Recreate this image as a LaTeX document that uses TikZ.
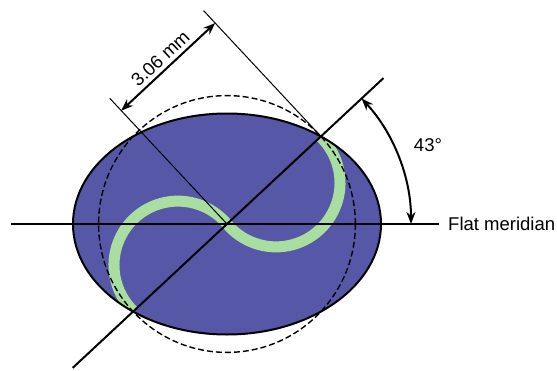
\documentclass[tikz,border=0pt]{standalone}
\usepackage{fontspec}
\setmainfont{Liberation Sans}
\usetikzlibrary{arrows.meta}
\definecolor{lensblue}{RGB}{87, 87, 167}
\definecolor{bandgreen}{RGB}{168, 222, 160}

\begin{document}
\begin{tikzpicture}[
    x=1pt, y=1pt,
    lens/.style={
        fill=lensblue
    },
    rim/.style={
        draw=black,
        line width=2pt
    },
    band/.style={
        draw=bandgreen,
        line width=11pt
    },
    meridian/.style={
        line width=2pt
    },
    guide/.style={
        line width=1pt
    },
    circ/.style={
        dash pattern=on 6pt off 3pt,
        line width=1.4pt
    },
    dimarrow/.style={
        line width=2pt,
        {Stealth[length=12pt,width=9pt]}-{Stealth[length=12pt,width=9pt]}
    },
    lbl/.style={
        font=\fontsize{18.5}{20}\selectfont,
        inner sep=0pt
    }
]
\useasboundingbox (-227,-146) rectangle (330,224);

% Lens
\coordinate (O) at (0,0);
\path [lens] (O) ellipse[x radius=154, y radius=110.5];
\begin{scope}
    \clip (O) ellipse[x radius=154, y radius=110.5];
    \draw [band] (O) arc[start angle=40, end angle=226, radius=64];
    \draw [band] (O) arc[start angle=220, end angle=406, radius=64];
\end{scope}
\draw [rim] (O) ellipse[x radius=154, y radius=110.5];
\draw [circ] (O) circle[radius=128.4];

% Points
\coordinate (P) at (43:128.4);
\coordinate (hL) at (-216,0);
\coordinate (hR) at (212,0);
\coordinate (dA) at (43:214);
\coordinate (dB) at (223:211);
\coordinate (e1) at (133:172);
\path (P) ++(133:172) coordinate (e2);
\path (O) ++(133:155) coordinate (m1);
\path (P) ++(133:155) coordinate (m2);
\coordinate (a0) at (0:184);

% Lines
\draw [meridian] (hL) -- (hR);
\draw [meridian] (dB) -- (dA);
\draw [guide] (O) -- (e1);
\draw [guide] (P) -- (e2);

% Dimensions
\draw [dimarrow] (m1) -- (m2) node[lbl, midway, above=4pt, sloped] {3.06 mm};
\draw [dimarrow] (a0) arc[start angle=0, end angle=43, radius=184];

% Labels
\node (flat) [lbl, anchor=west] at (221,0) {Flat meridian};
\node (ang) [lbl] at (21.5:216) {43°};

\end{tikzpicture}
\end{document}
